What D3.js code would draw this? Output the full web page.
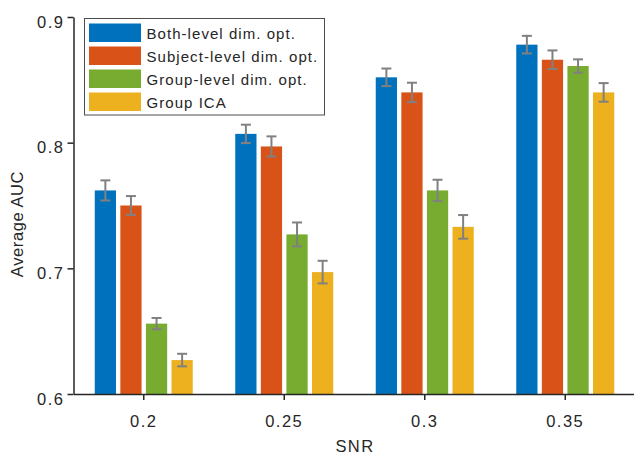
<!DOCTYPE html>
<html>
<head>
<meta charset="utf-8">
<script src="https://cdn.jsdelivr.net/npm/d3@7/dist/d3.min.js"></script>
<style>
  body { margin: 0; background: #fff; }
  text { font-family: "Liberation Sans", Arial, sans-serif; fill: #262626; }
</style>
</head>
<body>
<div id="chart"></div>
<script>
// data
var snr = ["0.2", "0.25", "0.3", "0.35"];
var methods = ["Both-level dim. opt.", "Subject-level dim. opt.", "Group-level dim. opt.", "Group ICA"];
var colors = ["#0072BD", "#D95319", "#77AC30", "#EDB120"];
var bothLevel    = [0.762, 0.807, 0.852, 0.878];
var subjectLevel = [0.750, 0.797, 0.840, 0.866];
var groupLevel   = [0.656, 0.727, 0.762, 0.861];
var groupICA     = [0.627, 0.697, 0.733, 0.840];
var errBoth    = [0.008, 0.0073, 0.007, 0.007];
var errSubject = [0.0075, 0.008, 0.0077, 0.0074];
var errGroup   = [0.0045, 0.0095, 0.0085, 0.0053];
var errICA     = [0.005, 0.009, 0.0094, 0.0074];
var yTicks = [0.6, 0.7, 0.8, 0.9];

var series = [bothLevel, subjectLevel, groupLevel, groupICA];
var errs = [errBoth, errSubject, errGroup, errICA];

var width = 634, height = 456;
var margin = {top: 17, right: 0, bottom: 62, left: 73.5};

var svg = d3.select("#chart").append("svg")
  .attr("width", width)
  .attr("height", height);

var x = d3.scaleBand()
  .domain(snr)
  .range([margin.left, 635.5])
  .paddingInner(0)
  .paddingOuter(0);

// bars inside one group
var xInner = d3.scaleBand()
  .domain(d3.range(methods.length))
  .range([-49, 49])
  .paddingInner(0.17);

var y = d3.scaleLinear()
  .domain([0.6, 0.9])
  .range([394, 17]);

var rows = [];
snr.forEach(function(s, i) {
  series.forEach(function(vals, j) {
    rows.push({s: s, j: j, v: vals[i], e: errs[j][i]});
  });
});

var g = svg.append("g");
g.selectAll("rect.bar")
  .data(rows)
  .enter()
  .append("rect")
  .attr("class", "bar")
  .attr("x", function(d) { return x(d.s) + x.bandwidth() / 2 + xInner(d.j); })
  .attr("y", function(d) { return y(d.v); })
  .attr("width", xInner.bandwidth())
  .attr("height", function(d) { return y(0.6) - y(d.v); })
  .style("fill", function(d) { return colors[d.j]; });

// error bars
var eb = g.selectAll("g.err")
  .data(rows)
  .enter()
  .append("g")
  .attr("class", "err")
  .attr("transform", function(d) {
    return "translate(" + (x(d.s) + x.bandwidth() / 2 + xInner(d.j) + xInner.bandwidth() / 2) + ",0)";
  })
  .style("stroke", "#808080")
  .style("stroke-width", 2);
eb.append("line")
  .attr("y1", function(d) { return y(d.v - d.e); })
  .attr("y2", function(d) { return y(d.v + d.e); });
eb.append("line")
  .attr("x1", -5).attr("x2", 5)
  .attr("y1", function(d) { return y(d.v + d.e); })
  .attr("y2", function(d) { return y(d.v + d.e); });
eb.append("line")
  .attr("x1", -5).attr("x2", 5)
  .attr("y1", function(d) { return y(d.v - d.e); })
  .attr("y2", function(d) { return y(d.v - d.e); });

// axes
var xAxis = svg.append("g")
  .attr("transform", "translate(0," + y(0.6) + ")")
  .call(d3.axisBottom(x).tickSize(6).tickPadding(15.5).tickSizeOuter(0));
var yAxis = svg.append("g")
  .attr("transform", "translate(" + margin.left + ",0)")
  .call(d3.axisLeft(y).tickValues(yTicks).tickFormat(d3.format(".1f")).tickSize(6).tickPadding(3).tickSizeOuter(0));

[xAxis, yAxis].forEach(function(a) {
  a.select(".domain").style("stroke", "#262626").style("stroke-width", 1.5);
  a.selectAll(".tick line").style("stroke", "#262626").style("stroke-width", 1.5);
  a.selectAll(".tick text")
    .style("font-family", "'Liberation Sans', Arial, sans-serif")
    .style("font-size", "16.5px")
    .style("letter-spacing", "1.5px")
    .style("fill", "#262626");
});
yAxis.selectAll(".tick text").attr("dy", "10px");

// axis titles
svg.append("text")
  .attr("x", 355)
  .attr("y", 451.5)
  .attr("text-anchor", "middle")
  .style("font-size", "16.5px")
  .style("letter-spacing", "1.4px")
  .text("SNR");

svg.append("text")
  .attr("transform", "translate(23,224) rotate(-90)")
  .attr("text-anchor", "middle")
  .style("font-size", "16.5px")
  .style("letter-spacing", "0.6px")
  .text("Average AUC");

// legend
var legend = svg.append("g");
legend.append("rect")
  .attr("x", 84.5).attr("y", 18.5)
  .attr("width", 240).attr("height", 96.5)
  .style("fill", "#fff")
  .style("stroke", "#4d4d4d")
  .style("stroke-width", 1);

var li = legend.selectAll("g.item")
  .data(methods)
  .enter()
  .append("g")
  .attr("transform", function(d, i) { return "translate(89," + (23.5 + i * 23) + ")"; });
li.append("rect")
  .attr("width", 52).attr("height", 18.5)
  .style("fill", function(d, i) { return colors[i]; });
li.append("text")
  .attr("x", 57.5).attr("y", 15.5)
  .style("font-size", "15px")
  .style("letter-spacing", "1.05px")
  .text(function(d) { return d; });
</script>
</body>
</html>
